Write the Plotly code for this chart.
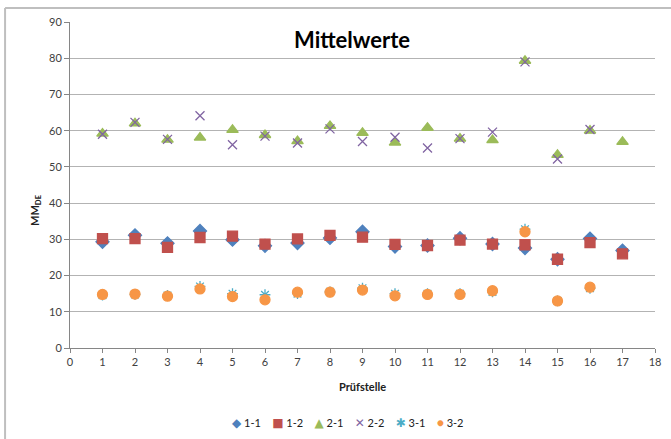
import plotly.graph_objects as go

# Prüfstelle numbers (x positions)
stellen = list(range(1, 18))

# Mean values per series; None where a Prüfstelle has no value
s_1_1 = [29.3, 31.1, 28.9, 32.3, 29.9, 28.2, 29.0, 30.4, 32.1, 28.0, 28.3, 30.3, 28.7, 27.6, 24.5, 30.2, 26.9]
s_1_2 = [30.2, 30.2, 27.8, 30.5, 30.9, 28.7, 30.1, 31.1, 30.6, 28.6, 28.3, 29.8, 28.7, 28.5, 24.5, 29.1, 26.0]
s_2_1 = [59.2, 62.0, 57.5, 58.1, 60.2, 58.8, 57.1, 61.3, 59.4, 56.7, 60.8, 57.8, 57.4, 79.3, 53.3, 60.0, 56.9]
s_2_2 = [59.0, 62.3, 57.6, 64.1, 56.1, 58.5, 56.6, 60.5, 57.0, 58.2, 55.2, 57.8, 59.6, 79.0, 52.2, 60.3, None]
s_3_1 = [14.6, 14.8, 14.5, 17.0, 15.0, 14.7, 15.0, 15.5, 16.5, 15.0, 15.0, 15.0, 15.5, 32.8, 13.0, 16.5, None]
s_3_2 = [14.8, 14.9, 14.3, 16.3, 14.2, 13.3, 15.4, 15.4, 16.0, 14.4, 14.8, 14.8, 15.8, 32.1, 13.0, 16.8, None]

x_ticks = list(range(0, 19))
y_ticks = list(range(0, 91, 10))

# name, values, plot symbol, legend glyph, colour, marker size
series = [
    ("1-1", s_1_1, "diamond", "◆", "#4F81BD", 10),
    ("1-2", s_1_2, "square", "■", "#C0504D", 10),
    ("2-1", s_2_1, "triangle-up", "▲", "#9BBB59", 10),
    ("2-2", s_2_2, "x-thin-open", "✕", "#8064A2", 9),
    ("3-1", s_3_1, "asterisk-open", "✱", "#4BACC6", 9),
    ("3-2", s_3_2, "circle", "●", "#F79646", 10),
]

fig = go.Figure()
for name, vals, sym, glyph, col, size in series:
    fig.add_trace(go.Scatter(
        x=stellen, y=vals, mode="markers", name=name,
        marker=dict(symbol=sym, color=col, size=size,
                    line=dict(color=col, width=1.3)),
    ))

# compact legend row below the axis title
legend_text = "&nbsp;&nbsp;&nbsp;&nbsp;".join(
    f'<span style="color:{col};font-size:12px">{glyph}</span>&nbsp;{name}'
    for name, _, _, glyph, col, _ in series
)

axis_font = dict(family="Lato, sans-serif", size=11, color="#404040")

fig.update_layout(
    width=671, height=439,
    margin=dict(l=70, r=16, t=22, b=91, autoexpand=False),
    paper_bgcolor="white", plot_bgcolor="white",
    font=dict(family="Lato, sans-serif", color="#202020"),
    showlegend=False,
    xaxis=dict(range=[0, 18], tickvals=x_ticks, showgrid=False, zeroline=False,
               showline=True, linecolor="#868686", linewidth=1,
               ticks="outside", ticklen=4, tickcolor="#868686",
               tickfont=axis_font),
    yaxis=dict(range=[0, 90], tickvals=y_ticks, showgrid=True, gridcolor="#B3B3B3",
               gridwidth=1, zeroline=False, showline=True, linecolor="#868686",
               linewidth=1, ticks="outside", ticklen=5, tickcolor="#868686",
               tickfont=axis_font),
    annotations=[
        dict(text="<b>Mittelwerte</b>", x=0.482, y=0.945, xref="paper", yref="paper",
             xanchor="center", yanchor="middle", showarrow=False,
             font=dict(family="Lato, sans-serif", size=22, color="#000000")),
        dict(text="<b>Prüfstelle</b>", x=0.5, y=-0.117, xref="paper", yref="paper",
             xanchor="center", yanchor="middle", showarrow=False,
             font=dict(family="Lato, sans-serif", size=11, color="#202020")),
        dict(text="<b>MM<sub>DE</sub></b>", x=-0.06, y=0.423, xref="paper", yref="paper",
             xanchor="center", yanchor="middle", showarrow=False, textangle=-90,
             font=dict(family="Lato, sans-serif", size=11, color="#202020")),
        dict(text=legend_text, x=0.475, y=-0.227, xref="paper", yref="paper",
             xanchor="center", yanchor="middle", showarrow=False,
             font=dict(family="Lato, DejaVu Sans, sans-serif", size=11, color="#202020")),
    ],
    shapes=[
        dict(type="line", xref="paper", yref="paper", x0=-0.111, x1=1.1, y0=1.043, y1=1.043,
             line=dict(color="#BFBFBF", width=2)),
        dict(type="line", xref="paper", yref="paper", x0=-0.111, x1=-0.111, y0=1.043, y1=-0.35,
             line=dict(color="#BFBFBF", width=2)),
    ],
)

fig.write_html("out.html")
